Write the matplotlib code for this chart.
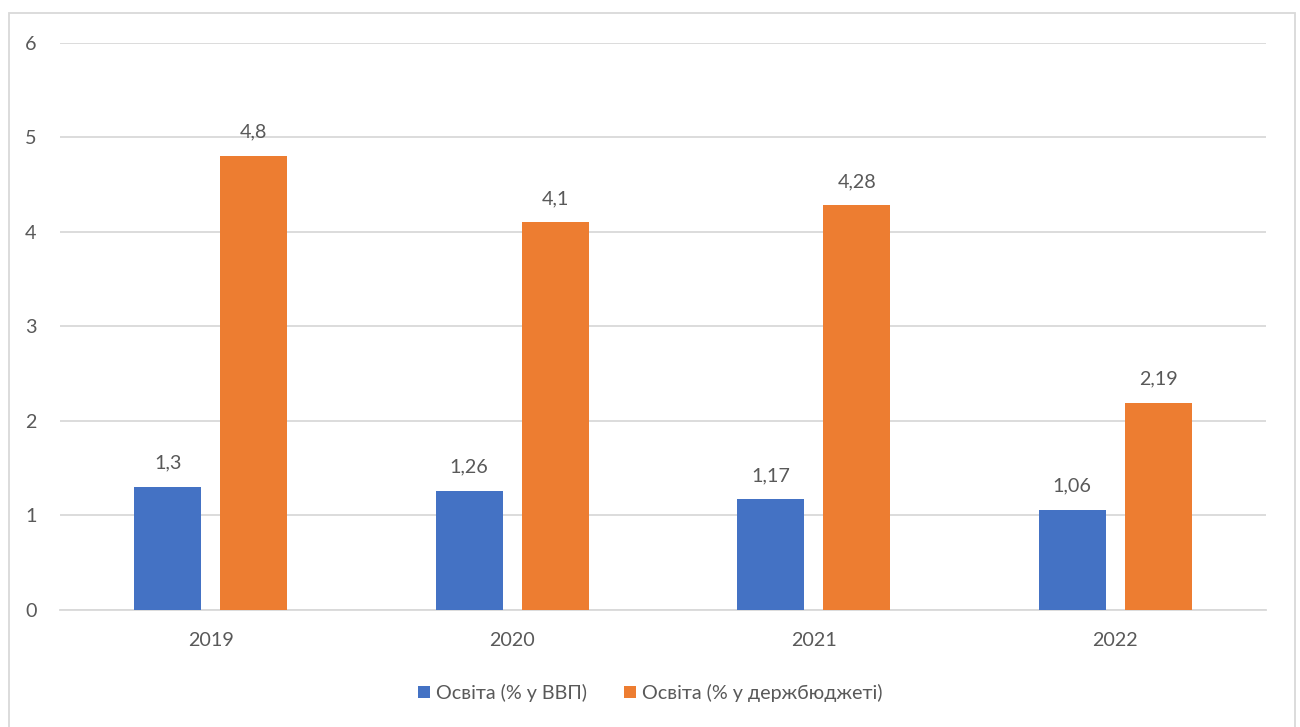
import numpy as np
import matplotlib.pyplot as plt
from matplotlib.patches import Rectangle

# --- data ---
years = ['2019', '2020', '2021', '2022']
gdp_share = [1.3, 1.26, 1.17, 1.06]
budget_share = [4.8, 4.1, 4.28, 2.19]
series_names = ['Освіта (% у ВВП)', 'Освіта (% у держбюджеті)']
colors = ['#4472C4', '#ED7D31']

plt.rcParams['font.family'] = ['Lato', 'DejaVu Sans']
text_color = '#595959'
grid_color = '#D9D9D9'
fs = 14.2

fig = plt.figure(figsize=(13, 7.27), dpi=100)
ax = fig.add_axes([0.0462, 0.161, 0.9277, 0.7805])

# chart border
fig.patches.append(Rectangle((0.007, -0.01), 0.989, 0.992, transform=fig.transFigure,
                             fill=False, edgecolor=grid_color, linewidth=1.3))

x = np.arange(len(years))
w = 0.222
off = 0.143
b1 = ax.bar(x - off, gdp_share, width=w, color=colors[0], label=series_names[0], zorder=3)
b2 = ax.bar(x + off, budget_share, width=w, color=colors[1], label=series_names[1], zorder=3)

for bars, vals in ((b1, gdp_share), (b2, budget_share)):
    for rect, v in zip(bars, vals):
        ax.annotate(f'{v:g}'.replace('.', ','),
                    (rect.get_x() + rect.get_width() / 2, v),
                    xytext=(0, 11), textcoords='offset points',
                    ha='center', va='bottom', fontsize=fs, color=text_color)

ax.set_xlim(-0.5, 3.5)
ax.set_ylim(0, 6)
ax.set_yticks(range(0, 7))
ax.set_xticks(x)
ax.set_xticklabels(years)
ax.yaxis.grid(True, color=grid_color, linewidth=1.3, zorder=0)
for s in ['top', 'right', 'left']:
    ax.spines[s].set_visible(False)
ax.spines['bottom'].set_color(grid_color)
ax.spines['bottom'].set_linewidth(1.3)
ax.tick_params(axis='both', length=0, labelsize=fs, labelcolor=text_color)
ax.tick_params(axis='x', pad=16)
ax.tick_params(axis='y', pad=17)

fig.legend(loc='center', bbox_to_anchor=(0.5, 0.047), ncol=2, frameon=False,
           fontsize=fs, labelcolor=text_color, handlelength=0.6, handleheight=0.6,
           handletextpad=0.3, columnspacing=1.9)

fig.savefig('out.png', dpi=100)
